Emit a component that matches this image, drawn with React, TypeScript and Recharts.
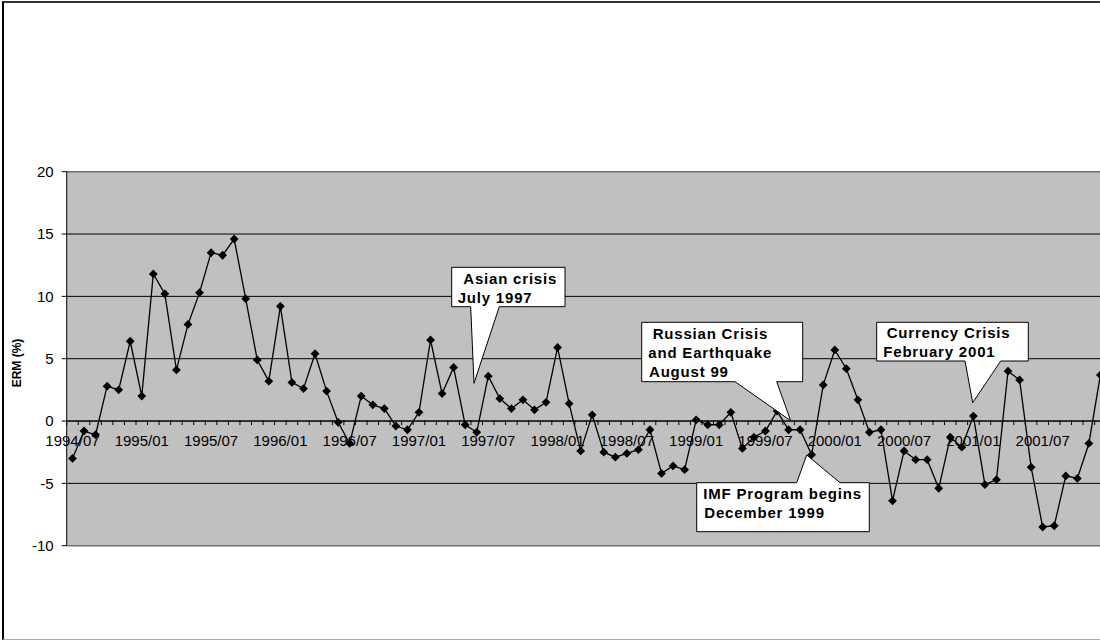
import React from "react";
import {
  LineChart,
  Line,
  XAxis,
  YAxis,
  CartesianGrid,
  ReferenceLine,
} from "recharts";

/* ── Data ─────────────────────────────────────────────────── */

const months = [
  "1994/07", "1994/08", "1994/09", "1994/10", "1994/11", "1994/12",
  "1995/01", "1995/02", "1995/03", "1995/04", "1995/05", "1995/06",
  "1995/07", "1995/08", "1995/09", "1995/10", "1995/11", "1995/12",
  "1996/01", "1996/02", "1996/03", "1996/04", "1996/05", "1996/06",
  "1996/07", "1996/08", "1996/09", "1996/10", "1996/11", "1996/12",
  "1997/01", "1997/02", "1997/03", "1997/04", "1997/05", "1997/06",
  "1997/07", "1997/08", "1997/09", "1997/10", "1997/11", "1997/12",
  "1998/01", "1998/02", "1998/03", "1998/04", "1998/05", "1998/06",
  "1998/07", "1998/08", "1998/09", "1998/10", "1998/11", "1998/12",
  "1999/01", "1999/02", "1999/03", "1999/04", "1999/05", "1999/06",
  "1999/07", "1999/08", "1999/09", "1999/10", "1999/11", "1999/12",
  "2000/01", "2000/02", "2000/03", "2000/04", "2000/05", "2000/06",
  "2000/07", "2000/08", "2000/09", "2000/10", "2000/11", "2000/12",
  "2001/01", "2001/02", "2001/03", "2001/04", "2001/05", "2001/06",
  "2001/07", "2001/08", "2001/09", "2001/10", "2001/11", "2001/12",
];

const ermValues = [
  -3.0, -0.8, -1.1, 2.8, 2.5, 6.4,
  2.0, 11.8, 10.2, 4.1, 7.75, 10.3, 13.5, 13.3, 14.6, 9.8, 4.9, 3.2,
  9.2, 3.1, 2.6, 5.4, 2.4, -0.1, -1.8, 2.0, 1.3, 1.0, -0.4, -0.7,
  0.7, 6.5, 2.2, 4.3, -0.3, -0.9, 3.6, 1.8, 1.0, 1.7, 0.9, 1.5,
  5.9, 1.4, -2.4, 0.5, -2.5, -2.9, -2.6, -2.3, -0.7, -4.2, -3.6, -3.9,
  0.1, -0.3, -0.3, 0.7, -2.2, -1.3, -0.8, 0.8, -0.7, -0.7, -2.7, 2.9,
  5.7, 4.2, 1.7, -0.9, -0.7, -6.4, -2.4, -3.1, -3.1, -5.4, -1.3, -2.1,
  0.4, -5.1, -4.7, 4.0, 3.3, -3.7, -8.5, -8.4, -4.4, -4.6, -1.8, 3.7,
];

const yTicks = [-10, -5, 0, 5, 10, 15, 20];
const Y_MIN = -10;
const Y_MAX = 20;

const chartData = months.map((m, i) => ({ month: m, erm: ermValues[i] }));

/* ── Geometry ─────────────────────────────────────────────── */

const CHART_W = 1120;
const CHART_H = 641;
const MARGIN = { top: 171.7, right: 13.8, bottom: 65.3, left: 6.7 };
const Y_AXIS_W = 60;
const X_AXIS_H = 30;
const PLOT_LEFT = MARGIN.left + Y_AXIS_W;
const PLOT_W = CHART_W - PLOT_LEFT - MARGIN.right;
const PLOT_H = CHART_H - MARGIN.top - MARGIN.bottom - X_AXIS_H;
const STEP = PLOT_W / months.length;
const ZERO_Y = MARGIN.top + (Y_MAX / (Y_MAX - Y_MIN)) * PLOT_H;

const FONT = "Arial, 'Liberation Sans', sans-serif";

/* ── Marks ────────────────────────────────────────────────── */

function Diamond({ cx, cy }: any) {
  if (cx == null || cy == null) return null;
  const r = 4.4;
  return (
    <path
      d={`M${cx},${cy - r}L${cx + r},${cy}L${cx},${cy + r}L${cx - r},${cy}Z`}
      fill="#000"
    />
  );
}

// labels sit on the zero line, like Excel does it
function MonthTick({ x, payload, index }: any) {
  const left = x - STEP / 2;
  return (
    <g>
      <line x1={left} x2={left} y1={ZERO_Y - 1} y2={ZERO_Y + 4} stroke="#000" />
      {index === months.length - 1 && (
        <line
          x1={x + STEP / 2}
          x2={x + STEP / 2}
          y1={ZERO_Y - 1}
          y2={ZERO_Y + 4}
          stroke="#000"
        />
      )}
      {index % 6 === 0 && (
        <text
          x={x}
          y={ZERO_Y + 25}
          textAnchor="middle"
          fontSize={15}
          fontFamily={FONT}
          fill="#000"
        >
          {payload.value}
        </text>
      )}
    </g>
  );
}

/* ── Callouts ─────────────────────────────────────────────── */

const calloutText = {
  fontFamily: FONT,
  fontSize: 15,
  fontWeight: 700,
  letterSpacing: 0.8,
  fill: "#000",
};

function Callouts() {
  return (
    <svg
      width={1100}
      height={641}
      style={{ position: "absolute", left: 0, top: 0, pointerEvents: "none" }}
    >
      <text
        transform="translate(21,363) rotate(-90)"
        textAnchor="middle"
        fontFamily={FONT}
        fontSize={12}
        fontWeight={700}
      >
        ERM (%)
      </text>

      <path
        d="M451.7,267.3 H565 V306.7 H499.3 L474,383.3 L470.7,306.7 H451.7 Z"
        fill="#fff"
        stroke="#000"
      />
      <text x={463.3} y={283.5} {...calloutText}>Asian crisis</text>
      <text x={457.7} y={302.5} {...calloutText}>July 1997</text>

      <path
        d="M641.7,322.3 H802.7 V381.7 H776.7 L790.7,420.7 L735,381.7 H641.7 Z"
        fill="#fff"
        stroke="#000"
      />
      <text x={652.7} y={338.5} {...calloutText}>Russian Crisis</text>
      <text x={648.3} y={357.5} {...calloutText}>and Earthquake</text>
      <text x={649} y={376.5} {...calloutText}>August 99</text>

      <path
        d="M696.7,482.7 H796.7 L806.7,455 L840,482.7 H869.3 V531.7 H696.7 Z"
        fill="#fff"
        stroke="#000"
      />
      <text x={703.3} y={498.5} {...calloutText}>IMF Program begins</text>
      <text x={704.3} y={518.3} {...calloutText}>December 1999</text>

      <path
        d="M876.7,322.3 H1028.3 V361 H1000.7 L972.7,402.7 L965,361 H876.7 Z"
        fill="#fff"
        stroke="#000"
      />
      <text x={886.7} y={338.3} {...calloutText}>Currency Crisis</text>
      <text x={883.3} y={357.3} {...calloutText}>February 2001</text>
    </svg>
  );
}

/* ── App ──────────────────────────────────────────────────── */

export default function App() {
  return (
    <div
      style={{
        position: "absolute",
        left: 0,
        top: 0,
        width: 1100,
        height: 641,
        overflow: "hidden",
        background: "#fff",
        fontFamily: FONT,
      }}
    >
      <div
        style={{
          position: "absolute",
          left: 2,
          top: 1,
          width: 1200,
          height: 636,
          borderTop: "2px solid #333",
          borderLeft: "2px solid #000",
          borderBottom: "1px solid #aaa",
        }}
      />
      <div style={{ position: "absolute", left: 0, top: 0 }}>
        <LineChart width={CHART_W} height={CHART_H} data={chartData} margin={MARGIN}>
          <CartesianGrid vertical={false} stroke="#000" fill="#C0C0C0" fillOpacity={1} />
          <XAxis
            dataKey="month"
            interval={0}
            height={X_AXIS_H}
            padding={{ left: STEP / 2, right: STEP / 2 }}
            axisLine={false}
            tickLine={false}
            tick={<MonthTick />}
          />
          <YAxis
            domain={[Y_MIN, Y_MAX]}
            ticks={yTicks}
            interval={0}
            width={Y_AXIS_W}
            tickSize={5}
            tickMargin={8}
            axisLine={{ stroke: "#000" }}
            tickLine={{ stroke: "#000" }}
            tick={{ fontSize: 15, fill: "#000", fontFamily: FONT }}
          />
          <ReferenceLine y={Y_MAX} stroke="#808080" />
          <ReferenceLine y={Y_MIN} stroke="#808080" />
          <ReferenceLine y={0} stroke="#000" />
          <Line
            type="linear"
            dataKey="erm"
            stroke="#000"
            strokeWidth={1.3}
            dot={(p: any) => <Diamond key={p.index} cx={p.cx} cy={p.cy} />}
            activeDot={false}
            isAnimationActive={false}
          />
        </LineChart>
      </div>
      <Callouts />
    </div>
  );
}
